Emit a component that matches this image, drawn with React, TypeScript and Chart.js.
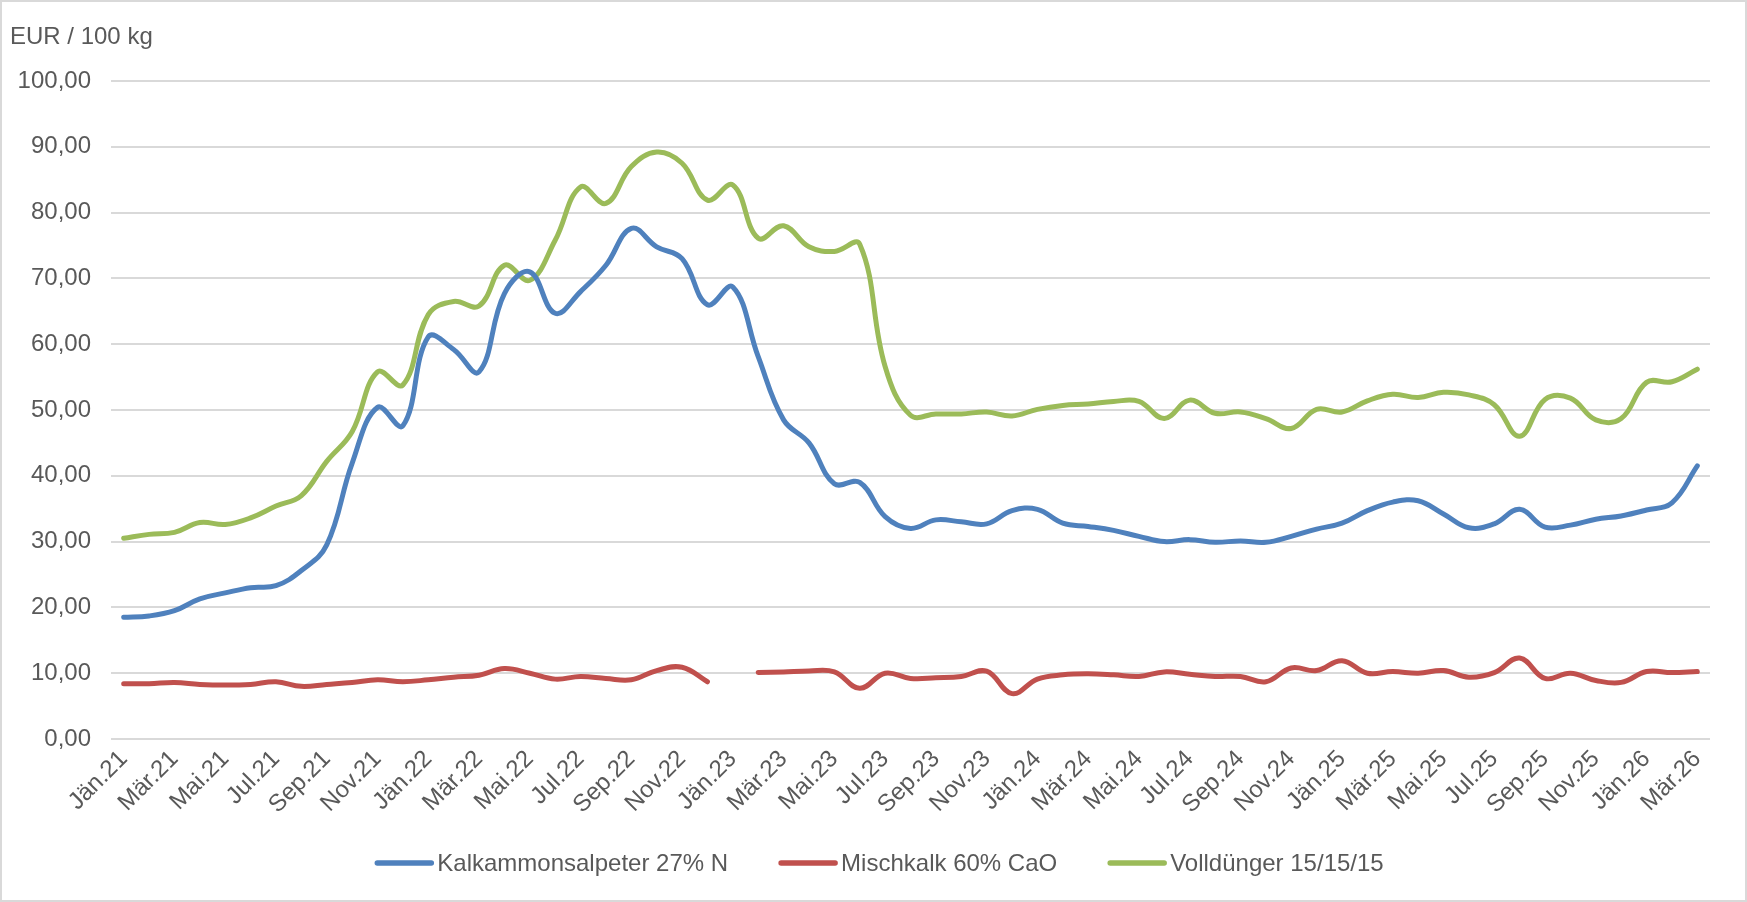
import { useEffect, useRef } from 'react';
import { Chart, registerables } from 'chart.js';

Chart.register(...registerables);

const months = [
  'Jän.21', 'Feb.21', 'Mär.21', 'Apr.21', 'Mai.21', 'Jun.21', 'Jul.21', 'Aug.21', 'Sep.21', 'Okt.21', 'Nov.21', 'Dez.21',
  'Jän.22', 'Feb.22', 'Mär.22', 'Apr.22', 'Mai.22', 'Jun.22', 'Jul.22', 'Aug.22', 'Sep.22', 'Okt.22', 'Nov.22', 'Dez.22',
  'Jän.23', 'Feb.23', 'Mär.23', 'Apr.23', 'Mai.23', 'Jun.23', 'Jul.23', 'Aug.23', 'Sep.23', 'Okt.23', 'Nov.23', 'Dez.23',
  'Jän.24', 'Feb.24', 'Mär.24', 'Apr.24', 'Mai.24', 'Jun.24', 'Jul.24', 'Aug.24', 'Sep.24', 'Okt.24', 'Nov.24', 'Dez.24',
  'Jän.25', 'Feb.25', 'Mär.25', 'Apr.25', 'Mai.25', 'Jun.25', 'Jul.25', 'Aug.25', 'Sep.25', 'Okt.25', 'Nov.25', 'Dez.25',
  'Jän.26', 'Feb.26', 'Mär.26',
];

const kalkammonsalpeter = [
  18.5, 18.7, 19.5, 21.3, 22.2, 23.0, 23.3, 25.6, 29.5, 41.9, 50.4, 47.6,
  61.1, 59.2, 55.8, 67.7, 71.0, 64.7, 68.0, 72.0, 77.6, 74.8, 73.0, 66.0,
  68.7, 58.1, 48.5, 45.0, 38.8, 39.0, 33.8, 32.0, 33.3, 33.0, 32.7, 34.7,
  34.9, 32.8, 32.3, 31.7, 30.8, 30.0, 30.3, 29.9, 30.1, 29.9, 30.8, 31.9,
  32.8, 34.7, 36.0, 36.2, 34.2, 32.1, 32.7, 34.9, 32.2, 32.5, 33.4, 33.9,
  34.8, 35.9, 41.5,
];

const mischkalk = [
  8.4, 8.4, 8.6, 8.3, 8.2, 8.3, 8.7, 8.0, 8.3, 8.6, 9.0, 8.7,
  9.0, 9.4, 9.7, 10.7, 10.0, 9.1, 9.5, 9.2, 9.0, 10.4, 10.9, 8.7,
  null, 10.1, 10.2, 10.35, 10.2, 7.7, 10.0, 9.2, 9.3, 9.5, 10.3, 6.9,
  9.1, 9.75, 9.9, 9.75, 9.5, 10.2, 9.85, 9.5, 9.5, 8.7, 10.8, 10.4,
  11.9, 10.0, 10.25, 10.0, 10.4, 9.4, 10.1, 12.3, 9.2, 10.0, 8.9, 8.6,
  10.25, 10.1, 10.25,
];

const vollduenger = [
  30.5, 31.1, 31.4, 32.9, 32.6, 33.6, 35.4, 37.0, 42.2, 46.7, 55.8, 53.8,
  64.5, 66.5, 65.8, 72.0, 69.7, 75.8, 83.9, 81.4, 87.0, 89.2, 87.5, 81.9,
  84.2, 76.1, 78.0, 74.8, 74.1, 75.2, 56.6, 49.2, 49.4, 49.4, 49.7, 49.1,
  50.1, 50.7, 50.9, 51.3, 51.3, 48.7, 51.5, 49.5, 49.7, 48.7, 47.2, 50.1,
  49.7, 51.4, 52.4, 51.9, 52.7, 52.3, 50.8, 46.0, 51.6, 51.8, 48.5, 48.7,
  54.2, 54.3, 56.2,
];

const seriesNames = ['Kalkammonsalpeter 27% N', 'Mischkalk 60% CaO', 'Volldünger 15/15/15'];
const seriesColors = ['#4f81bd', '#c0504d', '#9bbb59'];
const yTitle = 'EUR / 100 kg';

const FONT = '"Liberation Sans", Arial, sans-serif';
const TEXT = '#595959';
const GRID = '#d9d9d9';
const FS = 24;

const decorPlugin = {
  id: 'decor',
  afterDraw(chart: any) {
    const ctx = chart.ctx as CanvasRenderingContext2D;
    ctx.save();
    // outer frame
    ctx.strokeStyle = GRID;
    ctx.lineWidth = 2;
    ctx.strokeRect(1, 1, chart.width - 2, chart.height - 2);
    // axis title
    ctx.font = `${FS}px ${FONT}`;
    ctx.fillStyle = TEXT;
    ctx.textAlign = 'left';
    ctx.textBaseline = 'alphabetic';
    ctx.fillText(yTitle, 10, 44);
    // legend
    const marker = 60;
    const gapText = 3;
    const gapItem = 50;
    const items = chart.data.datasets.map((d: any) => ({
      label: d.label,
      color: d.borderColor,
      w: ctx.measureText(d.label).width,
    }));
    const total =
      items.reduce((s: number, it: any) => s + marker + gapText + it.w, 0) + gapItem * (items.length - 1);
    let x = 879 - total / 2;
    const y = 863;
    ctx.textBaseline = 'middle';
    for (const it of items) {
      ctx.strokeStyle = it.color;
      ctx.lineWidth = 5.5;
      ctx.lineCap = 'round';
      ctx.beginPath();
      ctx.moveTo(x + 3, y);
      ctx.lineTo(x + marker - 3, y);
      ctx.stroke();
      ctx.fillStyle = TEXT;
      ctx.fillText(it.label, x + marker + gapText, y + 1);
      x += marker + gapText + it.w + gapItem;
    }
    ctx.restore();
  },
};

export default function App() {
  const ref = useRef<HTMLCanvasElement>(null);

  useEffect(() => {
    document.body.style.margin = '0';
    const values = [kalkammonsalpeter, mischkalk, vollduenger];
    const chart = new Chart(ref.current as HTMLCanvasElement, {
      type: 'line',
      data: {
        labels: months,
        datasets: values.map((v, i) => ({
          label: seriesNames[i],
          data: v,
          borderColor: seriesColors[i],
          backgroundColor: seriesColors[i],
          borderWidth: 5,
          pointRadius: 0,
          pointHoverRadius: 0,
          tension: 0.4,
          borderCapStyle: 'round',
          borderJoinStyle: 'round',
          spanGaps: false,
          fill: false,
        })),
      },
      options: {
        responsive: false,
        animation: false,
        devicePixelRatio: 1,
        layout: { padding: { left: 0, right: 37, top: 81, bottom: 83 } },
        plugins: {
          legend: { display: false },
          title: { display: false },
          tooltip: { enabled: false },
        },
        scales: {
          x: {
            type: 'category',
            offset: true,
            grid: { display: false, drawTicks: false },
            border: { display: false },
            ticks: {
              autoSkip: false,
              minRotation: 45,
              maxRotation: 45,
              padding: 6,
              color: TEXT,
              font: { family: FONT, size: FS },
              callback: (_v: any, idx: number) => (idx % 2 === 0 ? months[idx] : ''),
            },
            afterFit: (scale: any) => {
              scale.height = 80;
            },
          },
          y: {
            min: 0,
            max: 100,
            grid: { color: GRID, lineWidth: 2, drawTicks: false },
            border: { display: false },
            ticks: {
              stepSize: 10,
              padding: 20,
              color: TEXT,
              font: { family: FONT, size: FS },
              callback: (v: any) => Number(v).toFixed(2).replace('.', ','),
            },
            afterFit: (scale: any) => {
              scale.width = 111;
            },
          },
        },
      },
      plugins: [decorPlugin],
    } as any);
    return () => chart.destroy();
  }, []);

  return (
    <canvas
      ref={ref}
      width={1747}
      height={902}
      style={{ display: 'block', width: '1747px', height: '902px' }}
    />
  );
}
